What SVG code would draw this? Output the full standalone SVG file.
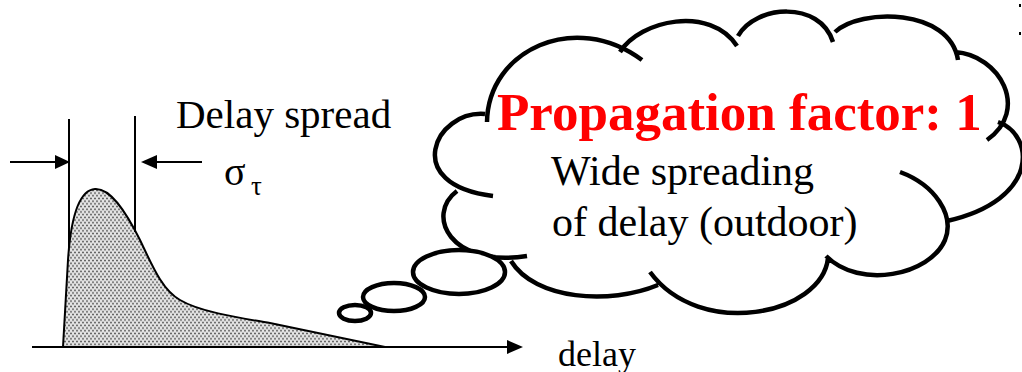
<svg xmlns="http://www.w3.org/2000/svg" width="1022" height="372" viewBox="0 0 1022 372">
  <defs>
    <!-- stippled fill for the power delay profile -->
    <pattern id="stipple" width="4" height="5.4" patternUnits="userSpaceOnUse">
      <rect width="4" height="5.4" fill="#e4e4e4"/>
      <circle cx="1" cy="1.35" r="0.85" fill="#3a3a3a"/>
      <circle cx="3" cy="4.05" r="0.85" fill="#3a3a3a"/>
    </pattern>
    <style>
      text { font-family: 'Liberation Serif', 'Times New Roman', serif; }
      .serif { fill: #000; }
      .title { font-weight: bold; fill: #ff0000; }
      .thin { stroke: #000; stroke-width: 2; fill: none; }
      .cloud { stroke: #000; stroke-width: 4.5; fill: none; }
      .bubble { stroke: #000; stroke-width: 4.5; fill: #fff; }
      .head { fill: #000; stroke: none; }
    </style>
  </defs>

  <rect width="1022" height="372" fill="#fff"/>

  <!-- power delay profile -->
  <g id="profile">
    <path d="M 63,347 L 68,260 C 71,215 80,190 95,189 C 110,188 125,210 140,240 C 152,265 162,290 180,300 C 200,312 240,318 270,323 L 385,347 Z"
          fill="url(#stipple)" stroke="#000" stroke-width="2" stroke-linejoin="round"/>
  </g>

  <!-- delay axis and spread markers -->
  <g id="connectors">
    <line class="thin" x1="32" y1="347" x2="510" y2="347"/>
    <polygon class="head" points="507,340 523,347 507,354"/>
    <line class="thin" x1="69" y1="119" x2="69" y2="248"/>
    <line class="thin" x1="135" y1="116" x2="135" y2="232"/>
    <line class="thin" x1="10" y1="162" x2="57" y2="162"/>
    <polygon class="head" points="55,155 70,162 55,169"/>
    <line class="thin" x1="155" y1="162" x2="202" y2="162"/>
    <polygon class="head" points="157,155 141,162 157,169"/>
  </g>

  <g id="axis-labels">
    <text class="serif" x="176" y="128" font-size="41">Delay spread</text>
    <text class="serif" x="224" y="185" font-size="40">σ</text>
    <text class="serif" x="251" y="195" font-size="27">τ</text>
    <text class="serif" x="558" y="366" font-size="36">delay</text>
  </g>

  <!-- thought cloud outline, drawn as overlapping lobes -->
  <g id="cloud">
    <path class="cloud" d="
      M 487,122 C 488,50 575,10 642,60
      M 620,52 C 640,20 710,5 737,46
      M 738,36 C 755,5 820,0 833,42
      M 835,32 C 860,8 950,8 958,60
      M 955,52 C 1000,55 1030,110 987,140
      M 998,122 C 1035,135 1040,200 947,221
      M 900,172 C 935,185 955,215 945,240 C 930,275 860,290 826,256
      M 828,258 C 822,315 700,340 650,272
      M 511,261 C 535,300 610,305 658,285
      M 457,191 C 425,215 450,268 527,256
      M 485,114 C 435,110 400,185 493,196"/>
  </g>

  <g id="bubbles">
    <ellipse class="bubble" cx="459" cy="272" rx="46" ry="22"/>
    <ellipse class="bubble" cx="394" cy="297" rx="31" ry="14"/>
    <ellipse class="bubble" cx="355" cy="313" rx="16" ry="8"/>
  </g>

  <g id="cloud-text">
    <text class="title" x="497" y="130" font-size="53">Propagation factor: 1</text>
    <text class="serif" x="551" y="185" font-size="42">Wide spreading</text>
    <text class="serif" x="552" y="236" font-size="42">of delay (outdoor)</text>
  </g>

  <!-- edge marks at the right border -->
  <g id="edge-marks" fill="#000">
    <rect x="1019" y="4" width="2" height="3"/>
    <rect x="1019" y="32" width="2" height="3"/>
  </g>
</svg>
